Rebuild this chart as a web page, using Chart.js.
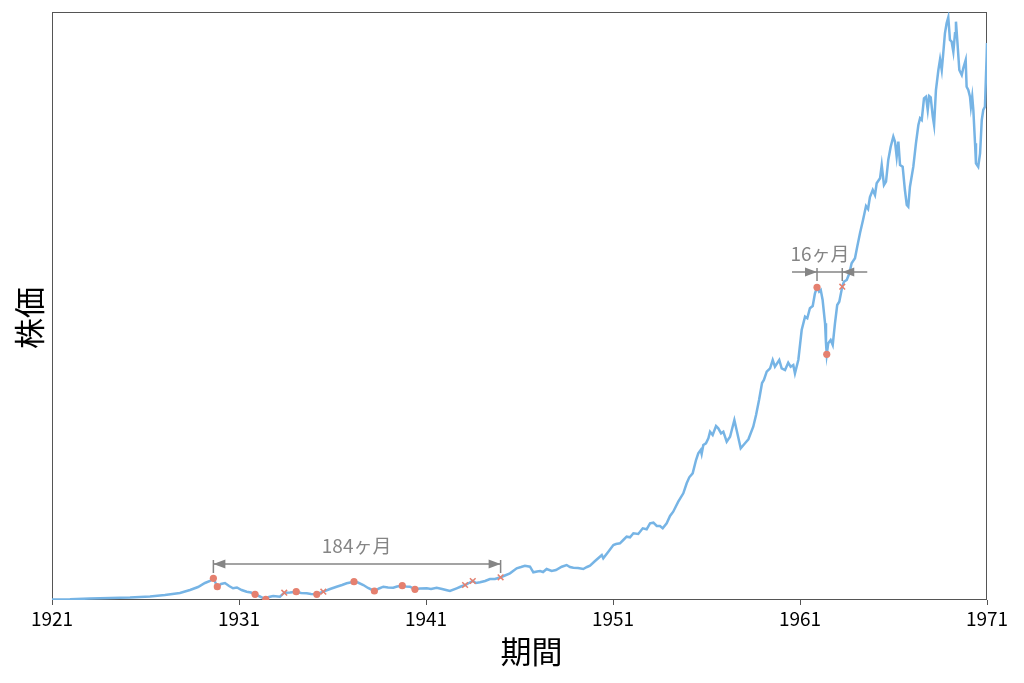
<!DOCTYPE html>
<html><head><meta charset="utf-8">
<script src="https://cdn.jsdelivr.net/npm/chart.js@4.4.1/dist/chart.umd.min.js"></script>
<style>html,body{margin:0;padding:0;background:#fff;}</style>
</head><body>
<canvas id="c" width="1024" height="683"></canvas>
<script>
const FONT = '"Noto Sans CJK JP", "Noto Sans", sans-serif';

const tickYears = [1921, 1931, 1941, 1951, 1961, 1971];
const tickLabels = ['1921', '1931', '1941', '1951', '1961', '1971'];

const years = [1921.00,1921.96,1923.03,1924.10,1925.17,1926.24,1927.04,1927.84,1928.38,1928.81,1929.18,1929.45,1929.63,1929.84,1930.04,1930.25,1930.47,1930.68,1930.89,1931.14,1931.41,1931.64,1931.86,1932.12,1932.43,1932.60,1932.83,1933.19,1933.42,1933.73,1934.06,1934.32,1934.62,1934.85,1935.16,1935.33,1935.51,1935.87,1936.22,1936.51,1936.76,1937.15,1937.36,1937.65,1937.90,1938.24,1938.49,1938.72,1938.97,1939.25,1939.45,1939.73,1939.93,1940.14,1940.41,1940.68,1941.04,1941.27,1941.57,1941.86,1942.07,1942.28,1942.64,1942.87,1943.09,1943.30,1943.50,1943.67,1943.89,1944.16,1944.42,1944.69,1944.99,1945.22,1945.49,1945.85,1946.08,1946.29,1946.56,1946.74,1946.94,1947.10,1947.26,1947.45,1947.72,1947.95,1948.26,1948.52,1948.70,1948.88,1949.13,1949.41,1949.61,1949.77,1950.04,1950.30,1950.40,1950.48,1950.75,1951.02,1951.16,1951.37,1951.55,1951.73,1951.91,1952.09,1952.35,1952.59,1952.80,1952.98,1953.16,1953.34,1953.51,1953.66,1953.87,1954.05,1954.22,1954.49,1954.76,1954.94,1955.08,1955.26,1955.44,1955.56,1955.69,1955.74,1955.83,1955.97,1956.10,1956.19,1956.33,1956.51,1956.63,1956.78,1956.90,1957.08,1957.26,1957.49,1957.61,1957.83,1958.06,1958.24,1958.50,1958.65,1958.81,1958.97,1959.07,1959.22,1959.40,1959.54,1959.66,1959.89,1960.02,1960.20,1960.37,1960.50,1960.64,1960.73,1960.91,1961.09,1961.27,1961.39,1961.53,1961.68,1961.80,1961.91,1962.02,1962.11,1962.21,1962.34,1962.39,1962.43,1962.51,1962.64,1962.75,1962.87,1962.99,1963.10,1963.19,1963.26,1963.35,1963.50,1963.64,1963.76,1963.94,1964.06,1964.21,1964.37,1964.53,1964.64,1964.74,1964.89,1965.01,1965.10,1965.28,1965.37,1965.49,1965.60,1965.72,1965.85,1965.99,1966.08,1966.17,1966.26,1966.35,1966.49,1966.61,1966.71,1966.79,1966.88,1967.06,1967.20,1967.33,1967.42,1967.51,1967.63,1967.74,1967.83,1967.91,1967.99,1968.10,1968.17,1968.27,1968.40,1968.49,1968.58,1968.66,1968.75,1968.84,1968.93,1969.02,1969.11,1969.20,1969.29,1969.34,1969.41,1969.52,1969.65,1969.73,1969.86,1969.91,1970.00,1970.09,1970.14,1970.21,1970.27,1970.36,1970.41,1970.53,1970.63,1970.72,1970.80,1970.89,1970.98,1971.00];

const prices = [0.3,0.35,0.75,1.0,1.25,1.75,2.5,3.5,5.0,6.5,8.5,9.5,10.85,6.65,8.0,8.5,7.0,5.85,6.25,5.0,4.15,3.75,2.85,1.75,0.35,1.5,2.0,1.65,3.65,3.75,4.15,3.5,3.35,3.0,2.85,3.5,4.15,5.5,6.65,7.5,8.35,9.15,8.75,7.5,6.0,4.5,5.75,6.65,6.25,6.15,6.75,7.15,6.75,6.65,5.35,5.75,5.85,5.5,6.15,5.5,5.0,4.5,5.85,6.75,7.5,8.5,9.5,8.5,8.85,9.5,10.5,10.5,11.35,12.25,13.35,15.85,16.5,17.15,16.65,13.85,14.25,14.5,14.0,15.5,14.5,15.0,16.65,17.5,16.5,16.15,16.0,15.5,16.5,17.15,19.5,21.65,22.5,20.85,24.15,27.5,28.0,28.35,30.0,31.65,31.35,33.35,33.0,35.85,35.35,38.35,38.65,37.0,37.0,35.85,38.35,42.0,44.15,49.15,53.35,58.35,61.35,63.35,70.0,73.35,75.0,73.0,77.5,78.35,80.85,84.15,82.5,87.0,85.85,83.35,84.15,79.15,81.65,90.0,85.0,75.85,78.35,80.35,86.65,92.5,100.0,108.5,110.0,114.15,115.85,120.0,116.65,120.0,115.85,115.0,118.65,116.65,117.5,113.35,120.0,135.0,141.65,140.85,145.85,147.0,153.35,156.35,154.15,155.0,150.0,138.35,128.35,122.85,128.35,130.0,127.5,138.35,147.5,149.15,153.35,156.65,159.15,160.0,163.35,168.35,170.85,176.65,183.5,190.0,197.0,195.5,201.5,205.0,202.5,208.35,210.85,217.5,207.5,209.15,220.0,226.65,231.65,229.15,221.65,229.15,217.5,216.65,205.0,197.5,196.65,206.65,216.65,228.35,237.5,240.85,240.0,250.85,251.65,245.0,252.0,251.35,241.65,237.5,255.0,265.0,270.35,265.0,273.35,283.35,288.35,291.35,280.0,279.15,274.15,283.35,289.15,280.0,265.0,262.5,265.85,270.0,256.65,255.0,251.65,246.65,251.65,245.0,228.35,218.35,216.65,223.35,240.0,245.0,246.65,271.65,278.5];

// peaks / troughs (dots) and recovery points (crosses)
const dotYears = [1929.63,1929.84,1931.86,1932.43,1934.06,1935.16,1937.15,1938.24,1939.73,1940.41,1961.91,1962.43];
const dotPrices = [10.85,6.65,2.85,0.35,4.15,2.85,9.15,4.5,7.15,5.35,156.35,122.85];
const crossYears = [1933.42,1935.51,1943.09,1943.50,1944.99,1963.26];
const crossPrices = [3.65,4.15,7.5,9.5,11.35,156.65];

// recovery-period annotations
const spanStarts = [1929.63, 1961.91];
const spanEnds = [1944.99, 1963.26];
const spanLevels = [18, 164];
const spanLabels = ['184ヶ月', '16ヶ月'];
const spanLabelYears = [1937.29, 1962.07];
const spanStyles = ['inner', 'outer'];

const GRAY = '#858585';
const LINE = '#76b4e5';
const MARK = '#e5806f';

function head(ctx, tip, y, dir) {
  ctx.beginPath();
  ctx.moveTo(tip, y);
  ctx.lineTo(tip - dir * 12, y - 4.5);
  ctx.lineTo(tip - dir * 12, y + 4.5);
  ctx.closePath();
  ctx.fill();
}

const deco = {
  id: 'deco',
  beforeDatasetsDraw(chart) {
    const {ctx, chartArea: a} = chart;
    ctx.save();
    ctx.strokeStyle = '#555';
    ctx.lineWidth = 1;
    ctx.strokeRect(Math.round(a.left) + 0.5, Math.round(a.top) + 0.5, Math.round(a.right - a.left) - 1, Math.round(a.bottom - a.top) - 1);
    ctx.restore();
  },
  afterDraw(chart) {
    const {ctx, chartArea: a, scales: {x, y}} = chart;
    ctx.save();
    ctx.strokeStyle = GRAY; ctx.fillStyle = GRAY; ctx.lineWidth = 1.5;
    for (let i = 0; i < spanStarts.length; i++) {
      const x1 = x.getPixelForValue(spanStarts[i]);
      const x2 = x.getPixelForValue(spanEnds[i]);
      const py = y.getPixelForValue(spanLevels[i]);
      const ext = spanStyles[i] === 'outer' ? 25 : 0;
      ctx.beginPath();
      ctx.moveTo(x1 - ext, py); ctx.lineTo(x2 + ext, py);
      ctx.moveTo(x1, py - 4); ctx.lineTo(x1, py + 9);
      ctx.moveTo(x2, py - 4); ctx.lineTo(x2, py + 9);
      ctx.stroke();
      if (spanStyles[i] === 'inner') { head(ctx, x1, py, -1); head(ctx, x2, py, 1); }
      else { head(ctx, x1, py, 1); head(ctx, x2, py, -1); }
      ctx.font = '19px ' + FONT;
      ctx.textAlign = 'center'; ctx.textBaseline = 'middle';
      ctx.fillText(spanLabels[i], x.getPixelForValue(spanLabelYears[i]), py - 18);
    }
    ctx.fillStyle = '#000';
    ctx.font = '31px ' + FONT;
    ctx.textAlign = 'center'; ctx.textBaseline = 'middle';
    ctx.fillText('期間', (a.left + a.right) / 2 + 12, 651);
    ctx.translate(29, (a.top + a.bottom) / 2 + 12);
    ctx.rotate(-Math.PI / 2);
    ctx.fillText('株価', 0, 0);
    ctx.restore();
  }
};

new Chart(document.getElementById('c').getContext('2d'), {
  type: 'line',
  data: {
    datasets: [
      { data: dotYears.map((v, i) => ({x: v, y: dotPrices[i]})), showLine: false,
        pointStyle: 'circle', pointRadius: 3.6, pointBackgroundColor: MARK, pointBorderWidth: 0, order: 1 },
      { data: crossYears.map((v, i) => ({x: v, y: crossPrices[i]})), showLine: false,
        pointStyle: 'crossRot', pointRadius: 4, pointBorderColor: MARK, pointBorderWidth: 1.5, order: 2 },
      { data: years.map((v, i) => ({x: v, y: prices[i]})), borderColor: LINE, borderWidth: 2.5,
        pointRadius: 0, tension: 0, fill: false, order: 3 }
    ]
  },
  options: {
    responsive: false, animation: false, devicePixelRatio: 1,
    layout: {padding: {left: 52, right: 37, top: 12, bottom: 0}},
    plugins: {legend: {display: false}, tooltip: {enabled: false}},
    scales: {
      x: {
        type: 'linear', min: 1921, max: 1971,
        afterBuildTicks: s => { s.ticks = tickYears.map(v => ({value: v})); },
        afterFit: s => { s.height = 83; },
        ticks: {callback: (v) => tickLabels[tickYears.indexOf(v)], font: {family: FONT, size: 19},
                color: '#000', padding: 2, maxRotation: 0, autoSkip: false},
        grid: {display: true, drawOnChartArea: false, drawTicks: true, tickLength: 5, color: '#555'},
        border: {display: false}
      },
      y: {display: false, min: 0, max: 294}
    }
  },
  plugins: [deco]
});
</script>
</body></html>
